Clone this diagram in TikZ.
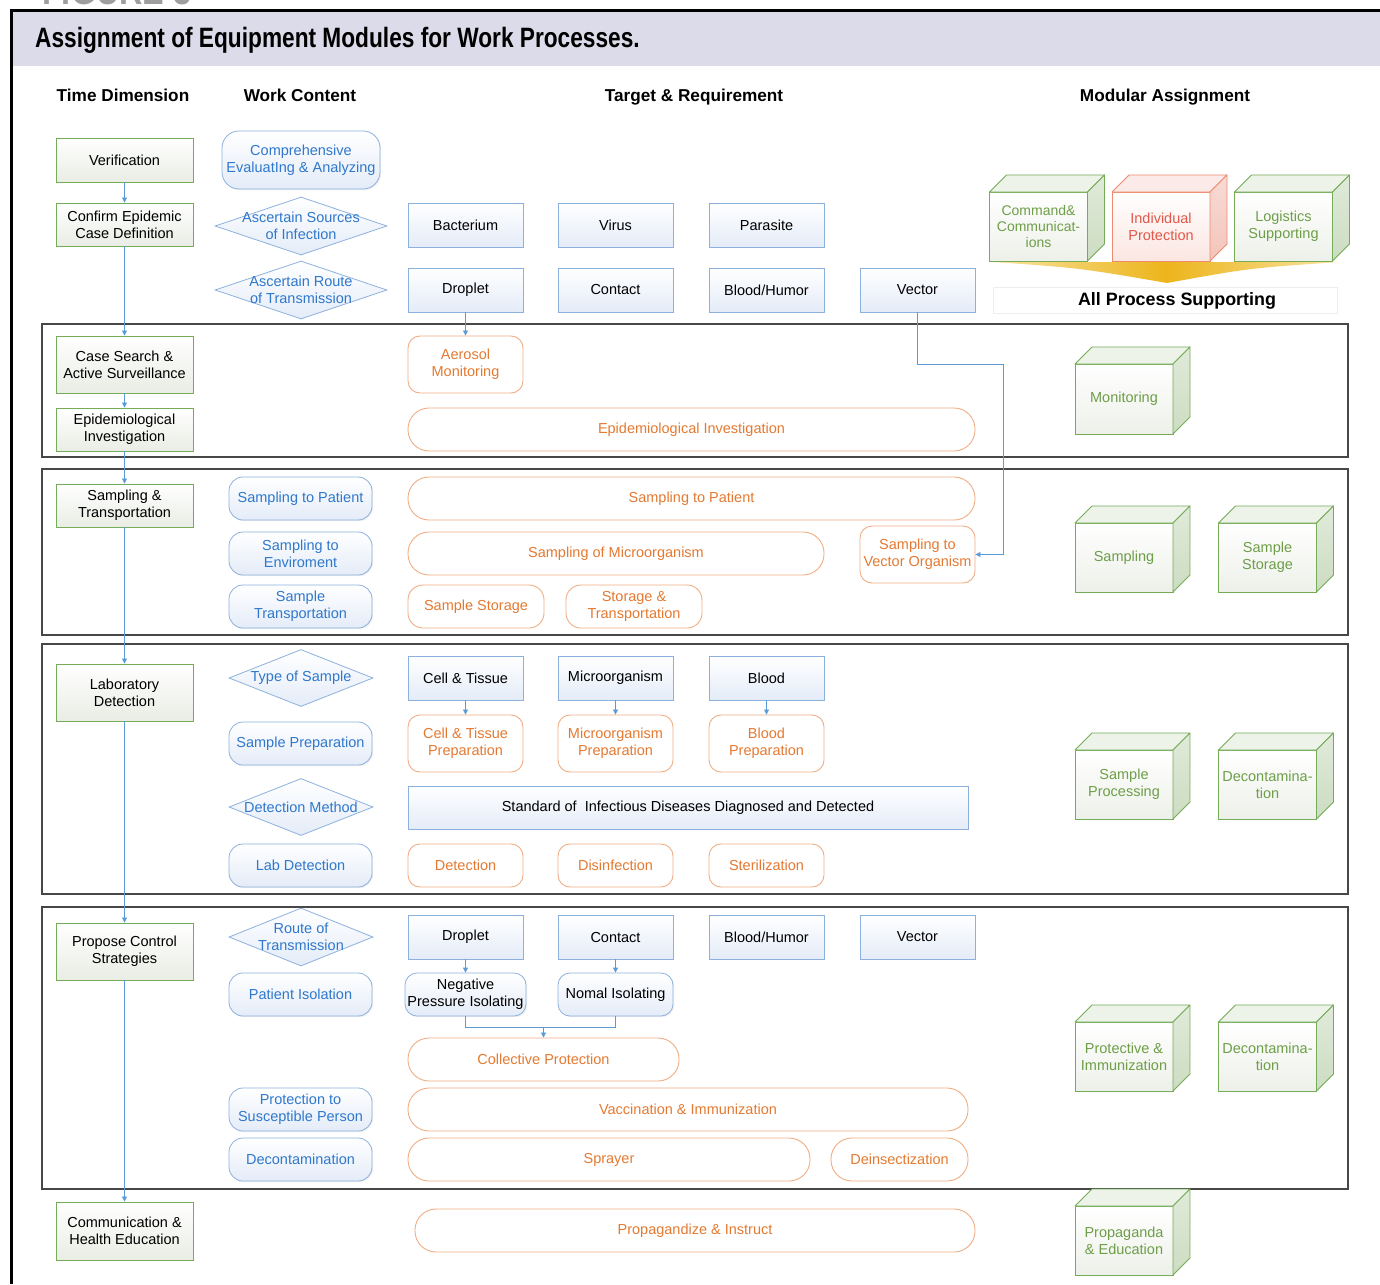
\documentclass[tikz,border=0pt]{standalone}
\usepackage{fontspec}
\setmainfont{Liberation Sans}
\newfontfamily\condfont[FakeStretch=0.81]{Liberation Sans}
\usetikzlibrary{arrows.meta,shadows,shapes.geometric}

\definecolor{grn}{HTML}{74AC58}
\definecolor{grnfill}{HTML}{E9EDE4}
\definecolor{grntext}{HTML}{6E9E48}
\definecolor{grnside}{HTML}{CCDCC1}
\definecolor{bluebd}{HTML}{8DB1DE}
\definecolor{bluetx}{HTML}{2F78CC}
\definecolor{bluefill}{HTML}{E4ECF8}
\definecolor{orgbd}{HTML}{F0AE84}
\definecolor{orgtx}{HTML}{E47A32}
\definecolor{linkblue}{HTML}{5B9BD5}
\definecolor{band}{HTML}{DCDBE9}
\definecolor{redbd}{HTML}{EC8C6E}
\definecolor{redtx}{HTML}{E0584A}
\definecolor{redside}{HTML}{F3C4BA}
\definecolor{redfill}{HTML}{FBE6E1}
\definecolor{gold}{HTML}{EDB51C}
\definecolor{goldlight}{HTML}{F8E3A0}

\newcommand{\hfont}{\bfseries\fontsize{17.2}{20}\selectfont}

% top and side faces of a module block drawn behind its front face
\newcommand{\blockfaces}[3]{%
  \path[draw=#2, line width=0.8pt, fill=#3!35!white, line join=round]
    (#1.north west) -- ([shift={(17,-17)}]#1.north west)
    -- ([shift={(17,-17)}]#1.north east) -- (#1.north east) -- cycle;
  \path[draw=#2, line width=0.8pt, top color=#3!60!white, bottom color=#3, line join=round]
    (#1.north east) -- ([shift={(17,-17)}]#1.north east)
    -- ([shift={(17,-17)}]#1.south east) -- (#1.south east) -- cycle;
}

\tikzset{
  every node/.style={font=\fontsize{14.5}{17}\selectfont, inner sep=0pt, align=center},
  softshadow/.style={drop shadow={opacity=0.12, shadow xshift=1.2pt, shadow yshift=-1.2pt}},
  timebox/.style={draw=grn, line width=0.9pt, top color=white, bottom color=grnfill,
    minimum width=137, softshadow},
  work/.style={draw=bluebd, line width=0.8pt, rounded corners=14pt, top color=white,
    bottom color=bluefill, text=bluetx, minimum width=143, minimum height=43, softshadow},
  diam/.style={shape=diamond, draw=bluebd, line width=0.8pt, top color=white,
    bottom color=bluefill, minimum width=144, minimum height=57},
  difftext/.style={text=bluetx},
  target/.style={draw=bluebd, line width=0.8pt, top color=white, bottom color=bluefill,
    minimum width=115, minimum height=44, softshadow},
  goal/.style={draw=orgbd, line width=0.9pt, fill=white, text=orgtx, rounded corners=12pt,
    minimum width=115, minimum height=57},
  stadium/.style={draw=orgbd, line width=0.9pt, fill=white, text=orgtx, rounded corners=21pt,
    minimum height=43},
  isol/.style={draw=bluebd, line width=0.8pt, rounded corners=12pt, top color=white,
    bottom color=bluefill, minimum height=43, softshadow},
  secbox/.style={draw=black!72, line width=1.5pt, minimum width=1306},
  module/.style={draw=grn, line width=0.9pt, top color=white, bottom color=grnfill!80,
    text=grntext, minimum width=98, minimum height=69, outer sep=0pt},
  link/.style={draw=linkblue, line width=0.8pt},
  arr/.style={link, -{Triangle[length=5pt,width=5pt]}},
}

\begin{document}
\begin{tikzpicture}[x=1pt,y=-1pt]
\useasboundingbox (0,0) rectangle (1380,1284);
\fill[white] (0,0) rectangle (1380,1284);

% caption above the frame
\node[anchor=base west, text=black!38, font=\condfont\bfseries\fontsize{40}{40}\selectfont] (figlabel) at (42,5) {FIGURE 3};

% frame and title band
\fill[band] (12,11) rectangle (1380,66);
\draw[line width=3pt] (11.5,1284) -- (11.5,11) -- (1380,11);
\node[anchor=base west, font=\condfont\bfseries\fontsize{28}{30}\selectfont] (title) at (35,48)
  {Assignment of Equipment Modules for Work Processes.};

% column headings
\node[anchor=base, font=\hfont] (hTime) at (123,102) {Time Dimension};
\node[anchor=base, font=\hfont] (hWork) at (300,102) {Work Content};
\node[anchor=base, font=\hfont] (hTarget) at (694,102) {Target \& Requirement};
\node[anchor=base, font=\hfont] (hModule) at (1165,102) {Modular Assignment};

% stage frames
\node[secbox, minimum height=133] (sec1) at (695,390.5) {};
\node[secbox, minimum height=166] (sec2) at (695,552) {};
\node[secbox, minimum height=250] (sec3) at (695,769) {};
\node[secbox, minimum height=282] (sec4) at (695,1048) {};

% ---------- time dimension ----------
\node[timebox, minimum height=44] (ver) at (124.5,160) {Verification};
\node[timebox, minimum height=43] (conf) at (124.5,224.5) {Confirm Epidemic\\Case Definition};
\node[timebox, minimum height=57] (csas) at (124.5,364.5) {Case Search \&\\Active Surveillance};
\node[timebox, minimum height=43] (epi) at (124.5,429.5) {Epidemiological\\Investigation};
\node[timebox, minimum height=43] (smtr) at (124.5,505.5) {Sampling \&\\Transportation};
\node[timebox, minimum height=57] (labd) at (124.5,692.5) {Laboratory\\Detection};
\node[timebox, minimum height=57] (pcs) at (124.5,951.5) {Propose Control\\Strategies};
\node[timebox, minimum height=58] (che) at (124.5,1231) {Communication \&\\Health Education};

% ---------- work content ----------
\node[work, minimum width=158, minimum height=58, rounded corners=17pt] (cea) at (301,160)
  {Comprehensive\\EvaluatIng \& Analyzing};
\node[diam, minimum width=172, minimum height=58] (dsrc) at (301,226) {};
\node[difftext] (dsrct) at (dsrc) {Ascertain Sources\\of Infection};
\node[diam, minimum width=172, minimum height=58] (droute) at (301,290) {};
\node[difftext] (droutet) at (droute) {Ascertain Route\\of Transmission};
\node[work] (wsp) at (300.5,498.5) {Sampling to Patient};
\node[work] (wse) at (300.5,553.5) {Sampling to\\Enviroment};
\node[work] (wst) at (300.5,606.5) {Sample\\Transportation};
\node[diam] (dts) at (301,678) {};
\node[difftext] (dtst) at (dts) {Type of Sample};
\node[work] (wspr) at (300.5,743.5) {Sample Preparation};
\node[diam] (ddm) at (301,807) {};
\node[difftext] (ddmt) at (ddm) {Detection Method};
\node[work] (wld) at (300.5,865.5) {Lab Detection};
\node[diam, minimum height=58] (drt) at (301,937) {};
\node[difftext] (drtt) at (drt) {Route of\\Transmission};
\node[work] (wpi) at (300.5,994.5) {Patient Isolation};
\node[work] (wpsp) at (300.5,1109.5) {Protection to\\Susceptible Person};
\node[work] (wdec) at (300.5,1159.5) {Decontamination};

% ---------- targets & requirements ----------
\node[target] (tbac) at (465.5,225) {Bacterium};
\node[target] (tvir) at (615.5,225) {Virus};
\node[target] (tpar) at (766.5,225) {Parasite};
\node[target] (tdrop) at (465.5,290) {Droplet};
\node[target] (tcont) at (615.5,290) {Contact};
\node[target] (tblood) at (766.5,290) {Blood/Humor};
\node[target] (tvec) at (917.5,290) {Vector};

\node[goal] (aer) at (465.5,364.5) {Aerosol\\Monitoring};
\node[stadium, minimum width=567] (epiinv) at (691.5,429.5) {Epidemiological Investigation};

\node[stadium, minimum width=567] (spat) at (691.5,498.5) {Sampling to Patient};
\node[stadium, minimum width=416] (smic) at (616,553.5) {Sampling of Microorganism};
\node[goal] (svo) at (917.5,554.5) {Sampling to\\Vector Organism};
\node[goal, minimum width=136, minimum height=43, rounded corners=15pt] (sst) at (476,606.5) {Sample Storage};
\node[goal, minimum width=136, minimum height=43, rounded corners=15pt] (stt) at (634,606.5) {Storage \&\\Transportation};

\node[target] (lcell) at (465.5,678) {Cell \& Tissue};
\node[target] (lmic) at (615.5,678) {Microorganism};
\node[target] (lblood) at (766.5,678) {Blood};
\node[goal] (lcellp) at (465.5,743.5) {Cell \& Tissue\\Preparation};
\node[goal] (lmicp) at (615.5,743.5) {Microorganism\\Preparation};
\node[goal] (lbloodp) at (766.5,743.5) {Blood\\Preparation};
\node[target, minimum width=560, minimum height=43] (std) at (688,807.5)
  {Standard of \ Infectious Diseases Diagnosed and Detected};
\node[goal, minimum height=43] (ldet) at (465.5,865.5) {Detection};
\node[goal, minimum height=43] (ldis) at (615.5,865.5) {Disinfection};
\node[goal, minimum height=43] (lster) at (766.5,865.5) {Sterilization};

\node[target] (cdrop) at (465.5,937) {Droplet};
\node[target] (ccont) at (615.5,937) {Contact};
\node[target] (cblood) at (766.5,937) {Blood/Humor};
\node[target] (cvec) at (917.5,937) {Vector};
\node[isol, minimum width=121] (npi) at (465.5,994.5) {Negative\\Pressure Isolating};
\node[isol, minimum width=115] (nis) at (615.5,994.5) {Nomal Isolating};
\node[stadium, minimum width=271] (cp) at (543.5,1059.5) {Collective Protection};
\node[stadium, minimum width=560] (vac) at (688,1109.5) {Vaccination \& Immunization};
\node[stadium, minimum width=402] (spray) at (609,1159.5) {Sprayer};
\node[stadium, minimum width=137] (deins) at (899.5,1159.5) {Deinsectization};
\node[stadium, minimum width=560] (propi) at (695,1230.5) {Propagandize \& Instruct};

% ---------- modular assignment ----------
\path[left color=goldlight, right color=goldlight, middle color=gold]
  (993,262) -- (1340,262) .. controls (1250,268) .. (1167,283) .. controls (1080,268) .. (993,262) -- cycle;
\node[draw=black!7, line width=0.8pt, minimum width=344, minimum height=26] (aps) at (1165,300) {};
\node[font=\bfseries\fontsize{17.9}{20}\selectfont] (apst) at (1177,301) {All Process Supporting};

\node[module, font=\fontsize{14}{16}\selectfont] (mcmd) at (1038.5,226.5) {Command\&\\Communicat-\\ions};
\blockfaces{mcmd}{grn}{grnside}
\node[module, draw=redbd, bottom color=redfill, text=redtx] (mind) at (1161,226.5) {Individual\\Protection};
\blockfaces{mind}{redbd}{redside}
\node[module] (mlog) at (1283.5,226.5) {Logistics\\Supporting};
\blockfaces{mlog}{grn}{grnside}

\node[module, minimum height=70] (mmon) at (1124,399) {Monitoring};
\blockfaces{mmon}{grn}{grnside}
\node[module] (msam) at (1124,557.5) {Sampling};
\blockfaces{msam}{grn}{grnside}
\node[module] (mstor) at (1267.5,557.5) {Sample\\Storage};
\blockfaces{mstor}{grn}{grnside}
\node[module] (mproc) at (1124,784.5) {Sample\\Processing};
\blockfaces{mproc}{grn}{grnside}
\node[module] (mdec) at (1267.5,784.5) {Decontamina-\\tion};
\blockfaces{mdec}{grn}{grnside}
\node[module] (mprot) at (1124,1056.5) {Protective \&\\Immunization};
\blockfaces{mprot}{grn}{grnside}
\node[module] (mdec2) at (1267.5,1056.5) {Decontamina-\\tion};
\blockfaces{mdec2}{grn}{grnside}
\node[module] (mped) at (1124,1240.5) {Propaganda\\\& Education};
\blockfaces{mped}{grn}{grnside}

% ---------- connectors ----------
\draw[arr] (ver) -- (conf);
\draw[arr] (conf) -- (csas);
\draw[arr] (csas) -- (epi);
\draw[arr] (epi) -- (smtr);
\draw[arr] (smtr) -- (labd);
\draw[arr] (labd) -- (pcs);
\draw[arr] (pcs) -- (che);

\draw[arr] (tdrop) -- (aer);
\coordinate (vbend) at (1003,364);
\draw[arr] (tvec.south) |- (vbend) |- (svo.east);

\draw[arr] (lcell) -- (lcellp);
\draw[arr] (lmic) -- (lmicp);
\draw[arr] (lblood) -- (lbloodp);

\draw[arr] (cdrop) -- (npi);
\draw[arr] (ccont) -- (nis);
\coordinate (join) at (543.5,1027);
\draw[link] (npi.south) |- (join) -| (nis.south);
\draw[arr] (join) -- (cp.north);
\end{tikzpicture}
\end{document}
